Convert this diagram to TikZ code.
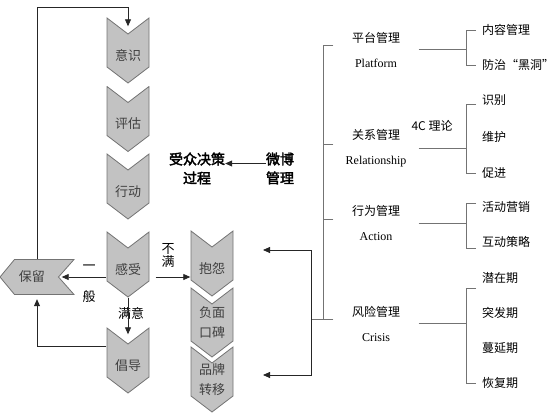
\documentclass[tikz,border=0pt]{standalone}
\usepackage{fontspec}
\setmainfont{Liberation Serif}
\newfontfamily\cjk{Noto Sans CJK SC}
\newfontfamily\cjkbf{Noto Sans CJK SC}[FakeBold=2.5]
\usetikzlibrary{arrows.meta, positioning}

\begin{document}
\begin{tikzpicture}[
    x=1pt, y=-1pt,
    stage/.style={
        rectangle, inner sep=0pt, minimum width=43pt, minimum height=66pt,
        align=center, text=black!75, font=\cjk\fontsize{13}{20}\selectfont,
        path picture={
            \draw[draw=black!55, fill=black!24, line width=.8pt]
                ([shift={(.5pt,-.5pt)}]path picture bounding box.north west)
                -- ([yshift=-16.5pt]path picture bounding box.north)
                -- ([shift={(-.5pt,-.5pt)}]path picture bounding box.north east)
                -- ([shift={(-.5pt,16.5pt)}]path picture bounding box.south east)
                -- ([yshift=.5pt]path picture bounding box.south)
                -- ([shift={(.5pt,16.5pt)}]path picture bounding box.south west)
                -- cycle;
        }
    },
    single/.style={
        stage, text height=19pt, text depth=0pt
    },
    keep/.style={
        rectangle, inner sep=0pt, minimum width=75pt, minimum height=36pt,
        text=black!75, font=\cjk\fontsize{13}{15}\selectfont,
        path picture={
            \draw[draw=black!55, fill=black!24, line width=.8pt]
                ([shift={(15pt,-.5pt)}]path picture bounding box.north west)
                -- ([shift={(-.5pt,-.5pt)}]path picture bounding box.north east)
                -- ([xshift=-16pt]path picture bounding box.east)
                -- ([shift={(-.5pt,.5pt)}]path picture bounding box.south east)
                -- ([shift={(15pt,.5pt)}]path picture bounding box.south west)
                -- ([xshift=.5pt]path picture bounding box.west)
                -- cycle;
        }
    },
    arr/.style={
        draw=black!85, line width=.8pt, -{Triangle[length=7pt,width=6pt]}
    },
    tree/.style={
        draw=black!55, line width=.9pt
    },
    cat/.style={
        align=center, text width=85pt, inner sep=0pt, font=\fontsize{12}{25}\selectfont
    },
    item/.style={
        anchor=west, inner xsep=6pt, inner ysep=0pt, font=\cjk\fontsize{12}{14}\selectfont
    },
    tag/.style={
        inner sep=0pt, font=\cjk\fontsize{13}{15}\selectfont
    },
    boss/.style={
        align=center, inner sep=0pt, font=\cjkbf\fontsize{14}{19}\selectfont
    }
]
\useasboundingbox (0,0) rectangle (554,415);

% decision process
\node[single] (yishi) at (128,50.5) {意识};
\node[single] (pinggu) at (128,119) {评估};
\node[single] (xingdong) at (128,186.5) {行动};
\node[single] (ganshou) at (128,264.5) {感受};
\node[single] (changdao) at (128,360.5) {倡导};
\node[single] (baoyuan) at (212,263.5) {抱怨};
\node[stage, minimum height=70pt] (koubei) at (212,322.5) {负面\\口碑};
\node[stage] (zhuanyi) at (212,379.5) {品牌\\转移};
\node[keep] (baoliu) at (37,277) {保留\hspace*{10pt}};

\node[tag] (yi) at (89,268) {一};
\node[tag] (ban) at (89,297) {般};
\node[tag, align=center, font=\cjk\fontsize{13}{13}\selectfont] (buman) at (168,255.5) {不\\满};
\node[tag] (manyi) at (131,313) {满意};

\draw[arr] (ganshou.west |- baoliu.east) -- ([xshift=-13pt]baoliu.east);
\draw[arr] ([xshift=6pt]ganshou.east |- baoliu.east) -- (baoyuan.west |- baoliu.east);
\draw[arr] (ganshou.south) -- ([yshift=-7pt]changdao.north);
\draw[arr, shorten >=4pt] ([yshift=14pt]changdao.west) -| (baoliu.south);
\draw[arr] (baoliu.north) |- ([yshift=10pt]yishi.north) -- ([yshift=-9pt]yishi.north);

% weibo management
\node[boss] (juece) at (197,168.5) {受众决策\\过程};
\node[boss] (weibo) at (280,168.5) {微博\\管理};
\draw[arr] ([yshift=5pt]weibo.west) -- ([yshift=5pt]juece.east);

\node[cat] (plat) at (376,49.5) {{\cjk 平台管理}\\Platform};
\node[cat] (rel) at (376,148.5) {{\cjk 关系管理}\\Relationship};
\node[cat] (act) at (376,223) {{\cjk 行为管理}\\Action};
\node[cat] (risk) at (376,323.5) {{\cjk 风险管理}\\Crisis};
\node[tag, font=\cjk\fontsize{12}{14}\selectfont] (theory) at (432,126) {4C 理论};

\coordinate (spine) at (323,0);
\coordinate (fork) at (466,0);
\coordinate (fb1) at (263,250);
\coordinate (fb2) at (263,375);

\draw[tree] ([yshift=4pt]plat.west) -| ([yshift=4pt]spine |- risk.west) -- ([yshift=4pt]risk.west);
\draw[tree] ([yshift=4pt]rel.west) -- ([yshift=4pt]spine |- rel.west);
\draw[tree] ([yshift=4pt]act.west) -- ([yshift=4pt]spine |- act.west);
\draw[tree] ([yshift=4pt]risk.west) -- ++(-22,0) coordinate (hub);
\draw[arr] (hub) |- (fb1);
\draw[arr] (hub) |- (fb2);

\node[item] (neirong) at (476,30) {内容管理};
\node[item] (fangzhi) at (476,65) {防治“黑洞”};
\draw[tree] (plat.east) -- (fork |- plat.east);
\draw[tree] (neirong.west) -| (fork |- fangzhi.west) -- (fangzhi.west);

\node[item] (shibie) at (476,100) {识别};
\node[item] (weihu) at (476,137) {维护};
\node[item] (cujin) at (476,173) {促进};
\draw[tree] (rel.east) -- (fork |- rel.east);
\draw[tree] ([yshift=-4pt]shibie.west) -| (fork |- cujin.west) -- (cujin.west);

\node[item] (huodong) at (476,207) {活动营销};
\node[item] (hudong) at (476,242) {互动策略};
\draw[tree] (act.east) -- (fork |- act.east);
\draw[tree] ([yshift=4pt]huodong.west) -| ([yshift=-6pt]fork |- hudong.west) -- ([yshift=-6pt]hudong.west);

\node[item] (qianzai) at (476,278) {潜在期};
\node[item] (tufa) at (476,313) {突发期};
\node[item] (manyan) at (476,348) {蔓延期};
\node[item] (huifu) at (476,383) {恢复期};
\draw[tree] (risk.east) -- (fork |- risk.east);
\draw[tree] ([yshift=-10pt]qianzai.west) -| (fork |- huifu.west) -- (huifu.west);

\end{tikzpicture}
\end{document}
